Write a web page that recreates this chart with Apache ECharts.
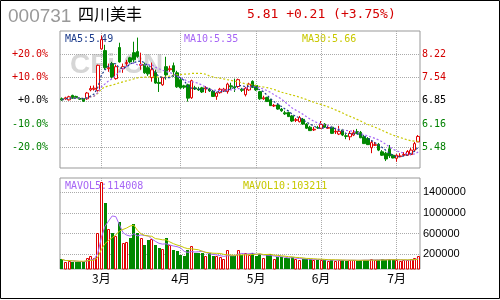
<!DOCTYPE html>
<html>
<head>
<meta charset="utf-8">
<script src="https://cdn.jsdelivr.net/npm/echarts@6/dist/echarts.min.js"></script>
<style>
html, body { margin: 0; padding: 0; background: #fff; }
#main { width: 500px; height: 300px; }
</style>
</head>
<body>
<div id="main"></div>
<script>
// trading days per month shown on the chart
var months = ['2月', '3月', '4月', '5月', '6月', '7月'];
var monthDays = [11, 22, 21, 18, 21, 7];

// daily prices
var openP = [6.91, 6.91, 6.88, 7.01, 6.98, 6.92, 6.92, 6.91, 7.17, 7.19,
  7.15, 8.37, 8.32, 7.79, 7.94, 7.50, 8.41, 7.79, 7.94, 8.11,
  8.26, 8.29, 7.89, 7.91, 7.82, 7.53, 7.68, 7.39, 7.32, 7.85,
  7.76, 7.88, 7.67, 7.47, 7.29, 7.32, 6.94, 7.23, 7.20, 7.23,
  7.20, 7.20, 7.13, 6.98, 7.09, 7.16, 7.12, 7.29, 7.26, 7.27,
  7.19, 7.03, 7.17, 7.42, 7.30, 7.12, 6.91, 6.95, 6.88, 6.70,
  6.73, 6.61, 6.50, 6.51, 6.41, 6.28, 6.24, 6.31, 6.17, 6.08,
  6.00, 6.07, 6.05, 6.17, 6.05, 6.08, 5.94, 5.88, 6.00, 5.83,
  5.80, 5.85, 5.95, 5.93, 5.80, 5.75, 5.48, 5.55, 5.58, 5.36,
  5.32, 5.45, 5.26, 5.17, 5.22, 5.26, 5.26, 5.28, 5.41, 5.65];
var closeP = [6.88, 6.94, 6.97, 6.93, 6.94, 6.90, 6.84, 7.08, 7.21, 7.22,
  7.89, 8.64, 7.82, 7.82, 7.55, 7.85, 7.99, 7.85, 7.97, 7.99,
  8.05, 8.15, 7.92, 7.67, 7.64, 7.76, 7.37, 7.36, 7.53, 7.61,
  7.79, 7.70, 7.26, 7.23, 7.25, 6.93, 7.44, 7.20, 7.17, 7.11,
  7.23, 7.14, 6.98, 7.08, 7.19, 7.19, 7.34, 7.26, 7.23, 7.47,
  7.16, 7.22, 7.34, 7.24, 7.17, 6.91, 6.94, 6.83, 6.71, 6.72,
  6.61, 6.56, 6.47, 6.39, 6.26, 6.30, 6.36, 6.17, 6.05, 5.98,
  6.02, 6.06, 6.16, 6.08, 6.07, 5.90, 5.96, 5.96, 5.85, 5.81,
  5.90, 5.92, 5.90, 5.77, 5.60, 5.57, 5.63, 5.57, 5.41, 5.26,
  5.15, 5.24, 5.18, 5.26, 5.24, 5.28, 5.37, 5.41, 5.60, 5.81];
var lowP = [6.85, 6.88, 6.86, 6.91, 6.91, 6.88, 6.82, 6.88, 7.13, 7.15,
  7.12, 8.35, 7.76, 7.70, 7.50, 7.47, 7.97, 7.67, 7.85, 7.94,
  7.97, 8.11, 7.76, 7.64, 7.58, 7.41, 7.35, 7.11, 7.29, 7.47,
  7.70, 7.55, 7.23, 7.20, 7.20, 6.83, 6.91, 7.17, 7.14, 7.08,
  7.08, 7.11, 6.97, 6.88, 7.06, 7.11, 7.06, 7.17, 7.11, 7.23,
  7.11, 6.98, 7.14, 7.23, 7.14, 6.88, 6.88, 6.82, 6.70, 6.67,
  6.59, 6.53, 6.44, 6.38, 6.23, 6.23, 6.22, 6.15, 6.03, 5.97,
  5.97, 6.03, 6.03, 6.06, 6.03, 5.88, 5.88, 5.85, 5.82, 5.73,
  5.70, 5.82, 5.88, 5.76, 5.59, 5.56, 5.32, 5.53, 5.38, 5.24,
  5.09, 5.18, 5.17, 5.07, 5.21, 5.24, 5.24, 5.26, 5.38, 5.65];
var highP = [6.95, 6.97, 7.00, 7.03, 7.00, 6.94, 6.93, 7.11, 7.29, 7.30,
  7.91, 8.76, 8.49, 7.94, 7.99, 7.91, 8.55, 7.94, 8.05, 8.14,
  8.58, 8.70, 8.26, 7.97, 7.88, 7.97, 7.76, 7.53, 7.55, 8.14,
  7.88, 7.97, 7.73, 7.53, 7.32, 7.35, 7.47, 7.29, 7.26, 7.26,
  7.28, 7.23, 7.17, 7.11, 7.23, 7.23, 7.38, 7.38, 7.50, 7.50,
  7.23, 7.26, 7.38, 7.45, 7.32, 7.14, 7.00, 6.97, 6.91, 6.76,
  6.76, 6.64, 6.56, 6.53, 6.44, 6.35, 6.41, 6.35, 6.20, 6.12,
  6.09, 6.12, 6.26, 6.20, 6.15, 6.12, 6.06, 6.12, 6.03, 5.88,
  5.97, 6.00, 6.03, 5.97, 5.85, 5.79, 5.70, 5.65, 5.62, 5.41,
  5.36, 5.56, 5.29, 5.29, 5.32, 5.35, 5.41, 5.47, 5.65, 5.85];

// daily volume
var volume = [103000, 57000, 76000, 57000, 51000, 57000, 57000, 122000, 167000, 122000,
  618000, 1605000, 1198000, 684000, 606000, 554000, 830000, 425000, 444000, 510000,
  786000, 618000, 521000, 380000, 477000, 496000, 380000, 328000, 303000, 510000,
  380000, 283000, 264000, 187000, 167000, 283000, 361000, 219000, 219000, 219000,
  167000, 219000, 167000, 167000, 142000, 103000, 283000, 167000, 167000, 283000,
  187000, 219000, 190000, 230000, 170000, 210000, 130000, 180000, 200000, 110000,
  150000, 140000, 120000, 130000, 140000, 100000, 95000, 110000, 105000, 100000,
  95000, 90000, 95000, 85000, 80000, 95000, 80000, 90000, 85000, 75000,
  90000, 85000, 80000, 85000, 95000, 90000, 100000, 85000, 95000, 100000,
  98000, 110000, 90000, 86000, 78070, 88000, 95000, 100000, 120000, 167040];

// axis tick labels
var basePrice = 6.85;
var pctSteps = [20, 10, 0, -10, -20];
var pctLabels = ['+20.0%', '+10.0%', '+0.0%', '-10.0%', '-20.0%'];
var priceLabels = ['8.22', '7.54', '6.85', '6.16', '5.48'];
var volTicks = [200000, 600000, 1000000, 1400000];

var RED = '#e00000';
var GREEN = '#008800';
var TXT_RED = '#d40000';
var TXT_GREEN = '#008000';
var tickColors = [TXT_RED, TXT_RED, '#000', TXT_GREEN, TXT_GREEN];
var MONO = '"DejaVu Sans Mono", "Liberation Mono", monospace';

var categories = [];
var monthStarts = [];
months.forEach(function (m, k) {
  monthStarts.push(categories.length);
  for (var d = 1; d <= monthDays[k]; d++) categories.push(m + '-' + d);
});
var gridMonths = monthStarts.slice(1);

var pricePos = pctSteps.map(function (p) { return basePrice * (1 + p / 100); });
function nearestTick(v) {
  v = parseFloat(v);
  var best = 0;
  pricePos.forEach(function (p, k) { if (Math.abs(p - v) < Math.abs(pricePos[best] - v)) best = k; });
  return best;
}

function ma(arr, n) {
  return arr.map(function (v, i) {
    var s = 0, c = 0;
    for (var j = Math.max(0, i - n + 1); j <= i; j++) { s += arr[j]; c++; }
    return s / c;
  });
}

var ma5 = ma(closeP, 5), ma10 = ma(closeP, 10), ma30 = ma(closeP, 30);
var mv5 = ma(volume, 5), mv10 = ma(volume, 10);
var last = closeP.length - 1;

var candles = openP.map(function (o, i) { return [o, closeP[i], lowP[i], highP[i]]; });
var volData = volume.map(function (v, i) { return [i, v, closeP[i] >= openP[i] ? 1 : 0]; });

var chg = closeP[last] - closeP[last - 1];
var headline = closeP[last].toFixed(2) + ' +' + chg.toFixed(2) +
  ' (+' + (chg / closeP[last - 1] * 100).toFixed(2) + '%)';

function renderVol(params, api) {
  var p = api.coord([api.value(0), api.value(1)]);
  var bottom = params.coordSys.y + params.coordSys.height;
  var left = Math.round(p[0] - 1.5);
  var top = Math.round(p[1]);
  if (api.value(2) === 1) {
    return {
      type: 'rect',
      shape: { x: left + 0.5, y: top + 0.5, width: 2, height: bottom - top - 0.5 },
      style: { fill: '#fff', stroke: RED, lineWidth: 1 }
    };
  }
  return {
    type: 'rect',
    shape: { x: left, y: top, width: 3, height: bottom - top },
    style: { fill: GREEN }
  };
}

var gridLineStyle = { color: '#aaa', type: 'dotted', width: 1 };

var chart = echarts.init(document.getElementById('main'));
var option = {
  animation: false,
  backgroundColor: '#fff',
  grid: [
    { left: 60, top: 31, width: 360, height: 137, show: true, borderColor: '#999', borderWidth: 1 },
    { left: 60, top: 178, width: 360, height: 91, show: true, borderColor: '#999', borderWidth: 1 }
  ],
  xAxis: [
    {
      type: 'category', gridIndex: 0, data: categories, boundaryGap: true,
      axisLine: { show: false }, axisTick: { show: false }, axisLabel: { show: false }, splitLine: { show: false }
    },
    {
      type: 'category', gridIndex: 1, data: categories, boundaryGap: true,
      axisLine: { show: false }, axisTick: { show: false }, splitLine: { show: false },
      axisLabel: {
        margin: 3, color: '#000', fontSize: 12, fontFamily: '"Noto Sans CJK SC"',
        interval: function (index) { return gridMonths.indexOf(index) >= 0; },
        formatter: function (v) { return v.split('-')[0]; }
      }
    }
  ],
  yAxis: [
    {
      type: 'value', gridIndex: 0, position: 'left', min: 4.887, max: 8.893,
      axisLine: { show: false }, axisTick: { show: false }, splitLine: { show: false },
      axisLabel: {
        customValues: pricePos, margin: 12, fontSize: 10, fontFamily: MONO,
        formatter: function (v) { return pctLabels[nearestTick(v)]; },
        color: function (v) { return tickColors[nearestTick(v)]; }
      }
    },
    {
      type: 'value', gridIndex: 0, position: 'right', min: 4.887, max: 8.893,
      axisLine: { show: false }, axisTick: { show: false }, splitLine: { show: false },
      axisLabel: {
        customValues: pricePos, margin: 2, fontSize: 10, fontFamily: MONO,
        formatter: function (v) { return priceLabels[nearestTick(v)]; },
        color: function (v) { return tickColors[nearestTick(v)]; }
      }
    },
    {
      type: 'value', gridIndex: 1, position: 'right', min: -84500, max: 1676800,
      axisLine: { show: false }, axisTick: { show: false }, splitLine: { show: false },
      axisLabel: {
        customValues: volTicks, margin: 3, fontSize: 11, fontFamily: '"Liberation Sans"', color: '#000',
        formatter: function (v) { return String(Math.round(v)); }
      }
    }
  ],
  graphic: [
    { type: 'rect', shape: { x: 0.5, y: 0.5, width: 499, height: 298 }, style: { fill: 'none', stroke: '#000', lineWidth: 1 } },
    { type: 'text', x: 70, y: 65, style: { text: 'CFi.CN', font: 'bold 28px "Liberation Sans"', fill: '#d6d6d6', verticalAlign: 'middle' } },
    { type: 'text', x: 8, y: 17, style: { text: '000731', font: '19px "Liberation Sans"', fill: '#999', verticalAlign: 'middle' } },
    { type: 'text', x: 78, y: 14, style: { text: '四川美丰', font: '16px "Noto Sans CJK SC"', fill: '#000', verticalAlign: 'middle' } },
    { type: 'text', x: 247, y: 14.5, style: { text: headline, font: '13px ' + MONO, fill: TXT_RED, verticalAlign: 'middle' } },
    { type: 'text', x: 65, y: 39, style: { text: 'MA5:' + ma5[last].toFixed(2), font: '10px ' + MONO, fill: '#1c3c8c', verticalAlign: 'middle' } },
    { type: 'text', x: 184, y: 39, style: { text: 'MA10:' + ma10[last].toFixed(2), font: '10px ' + MONO, fill: '#a665f5', verticalAlign: 'middle' } },
    { type: 'text', x: 302, y: 39, style: { text: 'MA30:' + ma30[last].toFixed(2), font: '10px ' + MONO, fill: '#c8c800', verticalAlign: 'middle' } },
    { type: 'text', x: 65, y: 186, style: { text: 'MAVOL5:' + Math.round(mv5[last]), font: '10px ' + MONO, fill: '#a665f5', verticalAlign: 'middle' } },
    { type: 'text', x: 243, y: 186, style: { text: 'MAVOL10:' + Math.round(mv10[last]), font: '10px ' + MONO, fill: '#c8c800', verticalAlign: 'middle' } }
  ],
  series: [
    {
      type: 'candlestick', xAxisIndex: 0, yAxisIndex: 0, data: candles, barWidth: 3,
      itemStyle: { color: '#fff', color0: GREEN, borderColor: RED, borderColor0: GREEN, borderWidth: 1 },
      markLine: {
        silent: true, z: 1, symbol: ['none', 'none'], label: { show: false }, lineStyle: gridLineStyle,
        data: pricePos.map(function (v) { return { yAxis: v }; })
          .concat(gridMonths.map(function (i) { return { xAxis: i }; }))
      }
    },
    { type: 'line', xAxisIndex: 0, yAxisIndex: 0, data: ma30, showSymbol: false, symbol: 'none', z: 3, lineStyle: { color: '#c8c800', width: 1.2, type: [2, 2] } },
    { type: 'line', xAxisIndex: 0, yAxisIndex: 0, data: ma10, showSymbol: false, symbol: 'none', z: 3, lineStyle: { color: '#a665f5', width: 1.2, type: [2, 2] } },
    { type: 'line', xAxisIndex: 0, yAxisIndex: 0, data: ma5, showSymbol: false, symbol: 'none', z: 3, lineStyle: { color: '#1c3c8c', width: 1.2, type: [2, 2] } },
    { type: 'custom', xAxisIndex: 1, yAxisIndex: 2, data: volData, renderItem: renderVol, encode: { x: 0, y: 1 }, z: 2 },
    {
      type: 'line', xAxisIndex: 1, yAxisIndex: 2, data: mv5, showSymbol: false, symbol: 'none', z: 3,
      lineStyle: { color: '#a665f5', width: 1 },
      markLine: {
        silent: true, z: 1, symbol: ['none', 'none'], label: { show: false }, lineStyle: gridLineStyle,
        data: volTicks.map(function (v) { return { yAxis: v }; })
          .concat(gridMonths.map(function (i) { return { xAxis: i }; }))
      }
    },
    { type: 'line', xAxisIndex: 1, yAxisIndex: 2, data: mv10, showSymbol: false, symbol: 'none', z: 3, lineStyle: { color: '#c8c800', width: 1 } }
  ]
};
chart.setOption(option);
</script>
</body>
</html>
